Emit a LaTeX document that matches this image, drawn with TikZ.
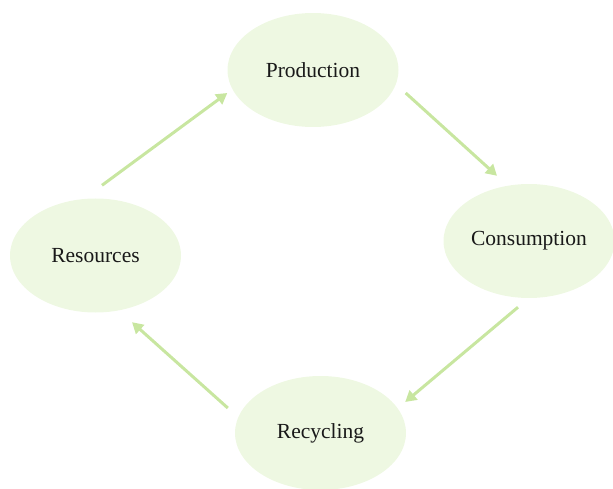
\documentclass[tikz,border=0pt]{standalone}
\usepackage{fontspec}
\setmainfont{Liberation Serif}
\usetikzlibrary{shapes.geometric,arrows.meta,calc}
\definecolor{nodefill}{HTML}{EEF8E2}
\definecolor{arrowc}{HTML}{C8E6A0}
\begin{document}
\begin{tikzpicture}[x=1pt,y=-1pt,
  stage/.style={ellipse,fill=nodefill,draw=none,minimum width=171pt,minimum height=114pt,inner sep=0pt,font=\fontsize{21.5}{25}\selectfont,text=black!90},
  flow/.style={draw=arrowc,line width=3pt,-{Triangle[length=11pt,width=12pt]}}]
\useasboundingbox (0,0) rectangle (613,489);
\node[stage] (prod) at (313,70) {Production};
\node[stage] (cons) at (529,241) {Consumption};
\node[stage] (res) at (95.5,255.5) {Resources};
\node[stage] (rec) at (320.5,433) {Recycling};
\draw[flow] ($(res.north)+(6.5,-13)$) -- ($(prod.west)+(0,23)$);
\draw[flow] ($(prod.east)+(7,23)$) -- ($(cons.north)+(-32,-8)$);
\draw[flow] ($(cons.south)+(-11,9)$) -- ($(rec.east)+(-1,-31)$);
\draw[flow] ($(rec.west)+(-7,-25)$) -- ($(res.south)+(36.5,9.5)$);
\end{tikzpicture}
\end{document}
